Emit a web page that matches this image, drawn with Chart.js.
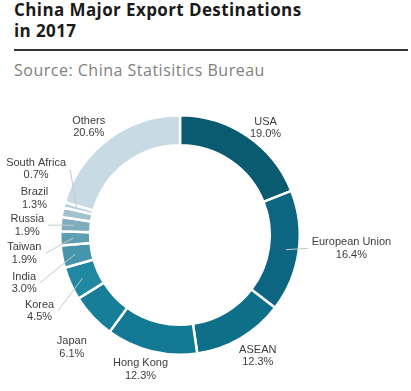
<!DOCTYPE html>
<html>
<head>
<meta charset="utf-8">
<script src="https://cdn.jsdelivr.net/npm/chart.js@4.4.1/dist/chart.umd.min.js"></script>
<style>
  html, body { margin: 0; padding: 0; background: #fff; }
  body { width: 411px; height: 391px; position: relative; overflow: hidden; }
  .title { position: absolute; left: 14px; top: -1px; font-family: "Open Sans", sans-serif; font-weight: 700;
    font-size: 17px; line-height: 21px; color: #1b1b1b; letter-spacing: 0.4px; }
  .rule { position: absolute; left: 14px; top: 49px; width: 394px; height: 2px; background: #333; }
  .source { position: absolute; left: 14px; top: 59px; font-family: "Open Sans", sans-serif; font-size: 16px;
    line-height: 22px; color: #808080; letter-spacing: 0.5px; }
  .wrap { position: absolute; left: 0; top: 95px; width: 411px; height: 296px; }
</style>
</head>
<body>
<div class="title">China Major Export Destinations<br>in 2017</div>
<div class="rule"></div>
<div class="source">Source: China Statisitics Bureau</div>
<div class="wrap"><canvas id="donut"></canvas></div>
<script>
var destinations = ["USA", "European Union", "ASEAN", "Hong Kong", "Japan", "Korea", "India", "Taiwan", "Russia", "Brazil", "South Africa", "Others"];
var shares = [19.0, 16.4, 12.3, 12.3, 6.1, 4.5, 3.0, 1.9, 1.9, 1.3, 0.7, 20.6];
var sliceColors = ["#0a5a70", "#0c6681", "#0e6f89", "#127893", "#167e98", "#2088a0", "#4795ab", "#5d9eb1", "#7eaebe", "#a2c1cd", "#b6cfda", "#c8dbe4"];

// label placement: [gap beyond ring, dx, dy, leader line?]
var labelPlace = [
  [20, 7, 8.5, false],
  [20, 33, -6, true],
  [20, 7, 0, false],
  [20, -6, -1.5, false],
  [20, -6, 17, false],
  [0, -31, 27, true],
  [0, -38, 26, true],
  [0, -36, 15, true],
  [0, -33.5, 1, true],
  [0, -28, -14, false],
  [0, -28, -36, true],
  [20, -7, 3, false]
];

var outerLabels = {
  id: "outerLabels",
  afterDatasetsDraw: function (chart) {
    var ctx = chart.ctx;
    var arcs = chart.getDatasetMeta(0).data;
    ctx.save();
    ctx.font = "11px 'Liberation Sans', Arial, sans-serif";
    ctx.textAlign = "center";
    ctx.textBaseline = "middle";
    arcs.forEach(function (arc, i) {
      var p = arc.getProps(["x", "y", "startAngle", "endAngle", "outerRadius", "innerRadius"], true);
      var mid = (p.startAngle + p.endAngle) / 2;
      var pl = labelPlace[i];
      var r = p.outerRadius + pl[0];
      var lx = p.x + Math.cos(mid) * r + pl[1];
      var ly = p.y + Math.sin(mid) * r + pl[2];
      if (pl[3]) {
        var rm = (p.outerRadius + p.innerRadius) / 2 + 2;
        var sx = p.x + Math.cos(mid) * rm;
        var sy = p.y + Math.sin(mid) * rm;
        var w = ctx.measureText(destinations[i]).width;
        var ex = lx > sx ? lx - w / 2 - 3 : lx + w / 2 + 4;
        ctx.strokeStyle = "#c3c9cd";
        ctx.lineWidth = 1;
        ctx.beginPath();
        ctx.moveTo(sx, sy);
        ctx.lineTo(ex, ly);
        ctx.stroke();
      }
      ctx.fillStyle = "#3d3d3d";
      ctx.fillText(destinations[i], lx, ly - 6);
      ctx.fillText(shares[i].toFixed(1) + "%", lx, ly + 6.5);
    });
    ctx.restore();
  }
};

new Chart(document.getElementById("donut"), {
  type: "doughnut",
  data: {
    labels: destinations,
    datasets: [{
      data: shares,
      backgroundColor: sliceColors,
      borderColor: "#ffffff",
      borderWidth: 2.5,
      hoverOffset: 0
    }]
  },
  options: {
    responsive: true,
    maintainAspectRatio: false,
    animation: false,
    cutout: "75%",
    layout: { padding: { left: 59, right: 110, top: 19, bottom: 35 } },
    plugins: { legend: { display: false }, tooltip: { enabled: false } }
  },
  plugins: [outerLabels]
});
</script>
</body>
</html>
